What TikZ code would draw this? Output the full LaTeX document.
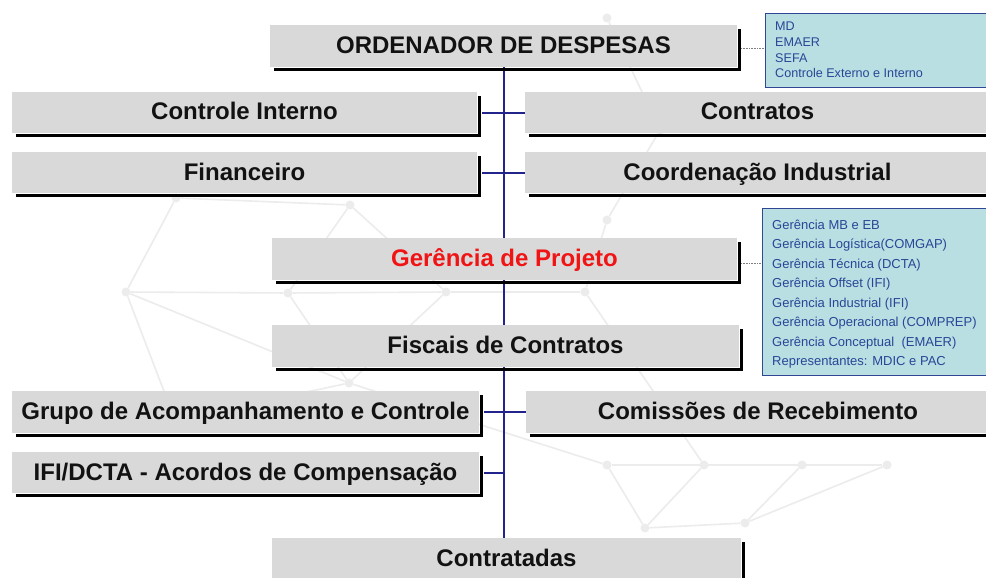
\documentclass[tikz,border=0pt]{standalone}
\usepackage{fontspec}
\setmainfont{Liberation Sans}
\definecolor{boxgray}{RGB}{217,217,217}
\definecolor{spine}{RGB}{35,35,140}
\definecolor{infofill}{RGB}{185,223,227}
\definecolor{infoborder}{RGB}{50,70,150}
\definecolor{infotext}{RGB}{40,70,150}
\definecolor{projred}{RGB}{240,20,20}
\definecolor{netgray}{RGB}{236,236,236}
\pgfdeclarelayer{deco}
\pgfdeclarelayer{links}
\pgfsetlayers{deco,links,main}
\newcommand\boxshadow[1]{\draw[shadowline] ([xshift=4pt,yshift=-2.5pt]#1.south west) -| ([xshift=2.5pt,yshift=-4pt]#1.north east);}
\begin{document}
\begin{tikzpicture}[x=1pt,y=-1pt,
  orgbox/.style={rectangle, fill=boxgray, inner sep=0pt, outer sep=0pt,
    minimum height=42pt, text height=17pt, text depth=2pt,
    font=\fontsize{24}{28}\selectfont\bfseries, text=black!93},
  shadowline/.style={line width=3pt, black, line join=miter},
  spineline/.style={line width=2pt, spine},
  dotline/.style={gray, densely dotted, line width=0.6pt},
  netline/.style={netgray, line width=1.6pt},
  netdot/.style={circle, fill=netgray, inner sep=0pt, minimum size=9pt},
  infobox/.style={rectangle, draw=infoborder, line width=1.2pt, fill=infofill, inner sep=0pt},
  infotxt/.style={anchor=north west, inner sep=0pt, align=left, text=infotext}
]
\useasboundingbox (0,0) rectangle (986,578);
\clip (0,0) rectangle (986,578);

% faint background network
\begin{pgfonlayer}{deco}
\fill[white] (0,0) rectangle (986,578);
\foreach \n/\p in {na/{(126,292)},nb/{(288,293)},nc/{(446,292)},nd/{(585,292)},ne/{(607,220)},
  nf/{(349,383)},ng/{(607,465)},nh/{(704,465)},ni/{(802,465)},nj/{(887,465)},nk/{(645,528)},
  nl/{(745,523)},nm/{(176,198)},nn/{(350,205)},no/{(660,130)},np/{(607,18)},nq/{(175,420)}}
  {\node[netdot] (\n) at \p {};}
\draw[netline] (nm) -- (na) -- (nb) -- (nc) -- (nd) -- (ne) -- (no);
\draw[netline] (na) -- (nf) -- (nc);
\draw[netline] (nb) -- (nf);
\draw[netline] (nm) -- (nn) -- (nc);
\draw[netline] (nn) -- (nb);
\draw[netline] (nf) -- (ng) -- (nk) -- (nh) -- (ni) -- (nl) -- (nj);
\draw[netline] (ng) -- (ni);
\draw[netline] (nk) -- (nl);
\draw[netline] (nh) -- (nj);
\draw[netline] (nd) -- (nh);
\draw[netline] (na) -- (nq) -- (nf);
\draw[netline] (no) -- (np);
\end{pgfonlayer}

% boxes
\node[orgbox, minimum width=467pt] (ord) at (503.5,46) {ORDENADOR DE DESPESAS};
\node[orgbox, minimum width=465pt, minimum height=41pt] (ci) at (244.5,112.5) {Controle Interno};
\node[orgbox, minimum width=465pt, minimum height=41pt] (con) at (757.5,112.5) {Contratos};
\node[orgbox, minimum width=465pt, minimum height=41pt] (fin) at (244.5,172.5) {Financeiro};
\node[orgbox, minimum width=465pt, minimum height=41pt] (coo) at (757.5,172.5) {Coordenação Industrial};
\node[orgbox, minimum width=465pt, text=projred] (ger) at (504.5,259) {Gerência de Projeto};
\node[orgbox, minimum width=467pt] (fis) at (505.5,346) {Fiscais de Contratos};
\node[orgbox, minimum width=467pt] (gru) at (245.5,412) {Grupo de Acompanhamento e Controle};
\node[orgbox, minimum width=464pt] (com) at (758,412) {Comissões de Recebimento};
\node[orgbox, minimum width=467pt, minimum height=41pt] (ifi) at (245.5,472.5) {IFI/DCTA - Acordos de Compensação};
\node[orgbox, minimum width=469pt] (ctd) at (506.5,559) {Contratadas};

\foreach \b in {ord,ci,con,fin,coo,ger,fis,gru,com,ifi,ctd} {\boxshadow{\b}}

% info boxes
\node[infobox, minimum width=225pt, minimum height=74pt, anchor=north west] (inf1) at (765,13) {};
\node[infotxt, font=\fontsize{12.6}{15.7}\selectfont] (inf1t) at (775,19.7)
  {\strut MD\\\strut EMAER\\\strut SEFA\\\strut Controle Externo e Interno};
\node[infobox, minimum width=228pt, minimum height=167pt, anchor=north west] (inf2) at (762,208) {};
\node[infotxt, font=\fontsize{13}{19.5}\selectfont] (inf2t) at (772,215.4)
  {\strut Gerência MB e EB\\\strut Gerência Logística(COMGAP)\\\strut Gerência Técnica (DCTA)\\\strut Gerência Offset (IFI)\\\strut Gerência Industrial (IFI)\\\strut Gerência Operacional (COMPREP)\\\strut Gerência Conceptual\ \ (EMAER)\\\strut Representantes: MDIC e PAC};

% connectors (behind the boxes)
\begin{pgfonlayer}{links}
\draw[spineline] (ord.south) -- (ord.south |- ctd.north);
\draw[spineline] ([xshift=5pt]ci.east) -- (con.west);
\draw[spineline] ([xshift=5pt]fin.east) -- (coo.west);
\draw[spineline] ([xshift=5pt]gru.east) -- (com.west);
\draw[spineline] ([xshift=5pt]ifi.east) -- (ifi.east -| ord.south);
\draw[dotline] ([xshift=4pt,yshift=-2pt]ord.east) -- ([yshift=-2pt]ord.east -| inf1.west);
\draw[dotline] ([xshift=4pt,yshift=-4pt]ger.east) -- ([yshift=-4pt]ger.east -| inf2.west);
\end{pgfonlayer}
\end{tikzpicture}
\end{document}
